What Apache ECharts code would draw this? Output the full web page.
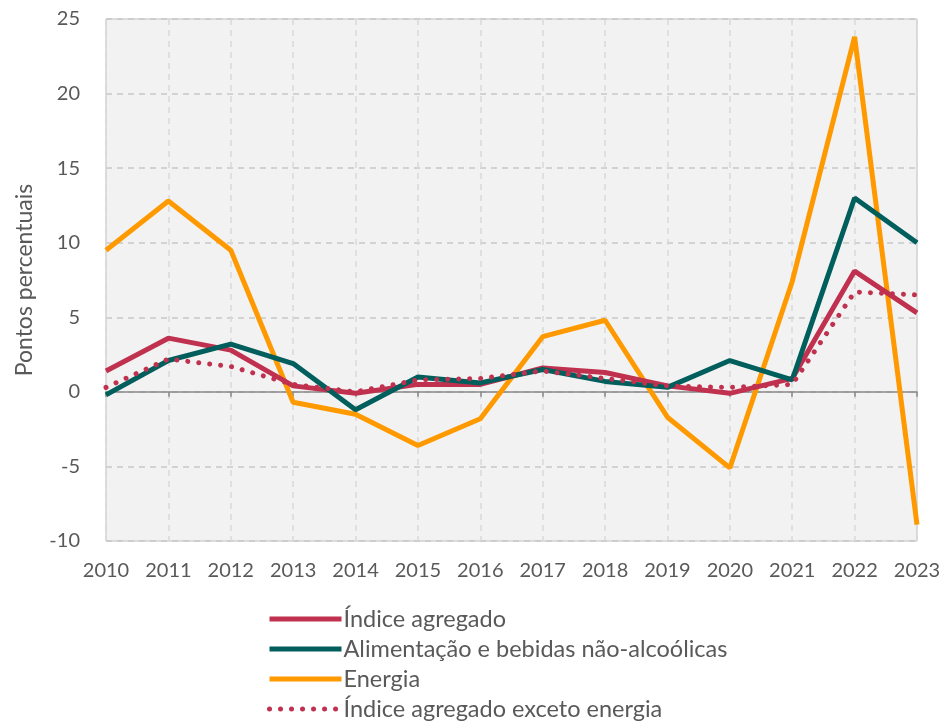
<!DOCTYPE html>
<html><head><meta charset="utf-8">
<script src="https://cdn.jsdelivr.net/npm/echarts@6/dist/echarts.min.js"></script>
<style>html,body{margin:0;padding:0;background:#fff}#c{width:946px;height:725px}</style>
</head><body><div id="c"></div>
<script>
const years = ['2010','2011','2012','2013','2014','2015','2016','2017','2018','2019','2020','2021','2022','2023'];
const indiceAgregado = [1.4, 3.6, 2.8, 0.4, -0.1, 0.5, 0.5, 1.6, 1.3, 0.4, -0.1, 0.9, 8.1, 5.3];
const alimentacao = [-0.2, 2.1, 3.2, 1.9, -1.2, 1.0, 0.6, 1.5, 0.7, 0.3, 2.1, 0.8, 13.0, 10.0];
const energia = [9.5, 12.8, 9.5, -0.7, -1.5, -3.6, -1.8, 3.7, 4.8, -1.7, -5.1, 7.4, 23.8, -8.9];
const exEnergia = [0.3, 2.2, 1.7, 0.5, 0.0, 0.8, 0.9, 1.4, 0.9, 0.4, 0.3, 0.5, 6.7, 6.5];
const names = ['Índice agregado','Alimentação e bebidas não-alcoólicas','Energia','Índice agregado exceto energia'];

const font = 'Lato, "Open Sans", sans-serif';
const chart = echarts.init(document.getElementById('c'), null, {renderer:'canvas'});
function line(name, data, color, dotted, z){
  return {name, type:'line', data, xAxisIndex:0, yAxisIndex:0, symbol:'none', smooth:false, z,
    lineStyle:{color, width:5, type: dotted?[0.01,11]:'solid', cap: dotted?'round':'butt'},
    itemStyle:{color, opacity:0}, emphasis:{disabled:true}};
}
chart.setOption({
  animation:false,
  textStyle:{fontFamily:font},
  grid:{left:106, right:29, top:19, bottom:184, show:true, backgroundColor:'#f2f2f2', borderColor:'#bfbfbf', borderWidth:1},
  xAxis:[{type:'category', data:years, boundaryGap:false, position:'bottom',
      axisLine:{show:false, onZero:false}, axisTick:{show:false},
      axisLabel:{color:'#595959', fontSize:20, margin:20, fontFamily:font},
      splitLine:{show:true, lineStyle:{color:'#d9d9d9', type:[6,5], width:1.5}}},
    {type:'category', data:years, boundaryGap:false, position:'top',
      axisLine:{show:true, onZero:true, lineStyle:{color:'#898989', width:1.5}},
      axisTick:{show:true, inside:true, length:5, lineStyle:{color:'#898989', width:1.5}},
      axisLabel:{show:false}, splitLine:{show:false}}],
  yAxis:{type:'value', min:-10, max:25, interval:5,
    name:'Pontos percentuais', nameLocation:'middle', nameGap:70, nameRotate:90,
    nameTextStyle:{color:'#595959', fontSize:23, fontFamily:font},
    axisLine:{show:false}, axisTick:{show:false},
    axisLabel:{color:'#595959', fontSize:20, margin:26, fontFamily:font},
    splitLine:{show:true, lineStyle:{color:'#c8c8c8', type:[6,5], width:1.5}}},
  legend:{orient:'vertical', left:267, top:607, padding:0, itemWidth:72, itemHeight:8, itemGap:6,
    height:118,
    itemStyle:{opacity:0},
    lineStyle:{width:5},
    textStyle:{color:'#595959', fontSize:23.5, fontFamily:font, padding:[0,0,0,-3]},
    data:names},
  series:[
    line(names[2], energia, '#ff9900', false, 3),
    line(names[0], indiceAgregado, '#c0314f', false, 4),
    line(names[1], alimentacao, '#005f5c', false, 5),
    line(names[3], exEnergia, '#c0314f', true, 6)
  ]
});
</script></body></html>
